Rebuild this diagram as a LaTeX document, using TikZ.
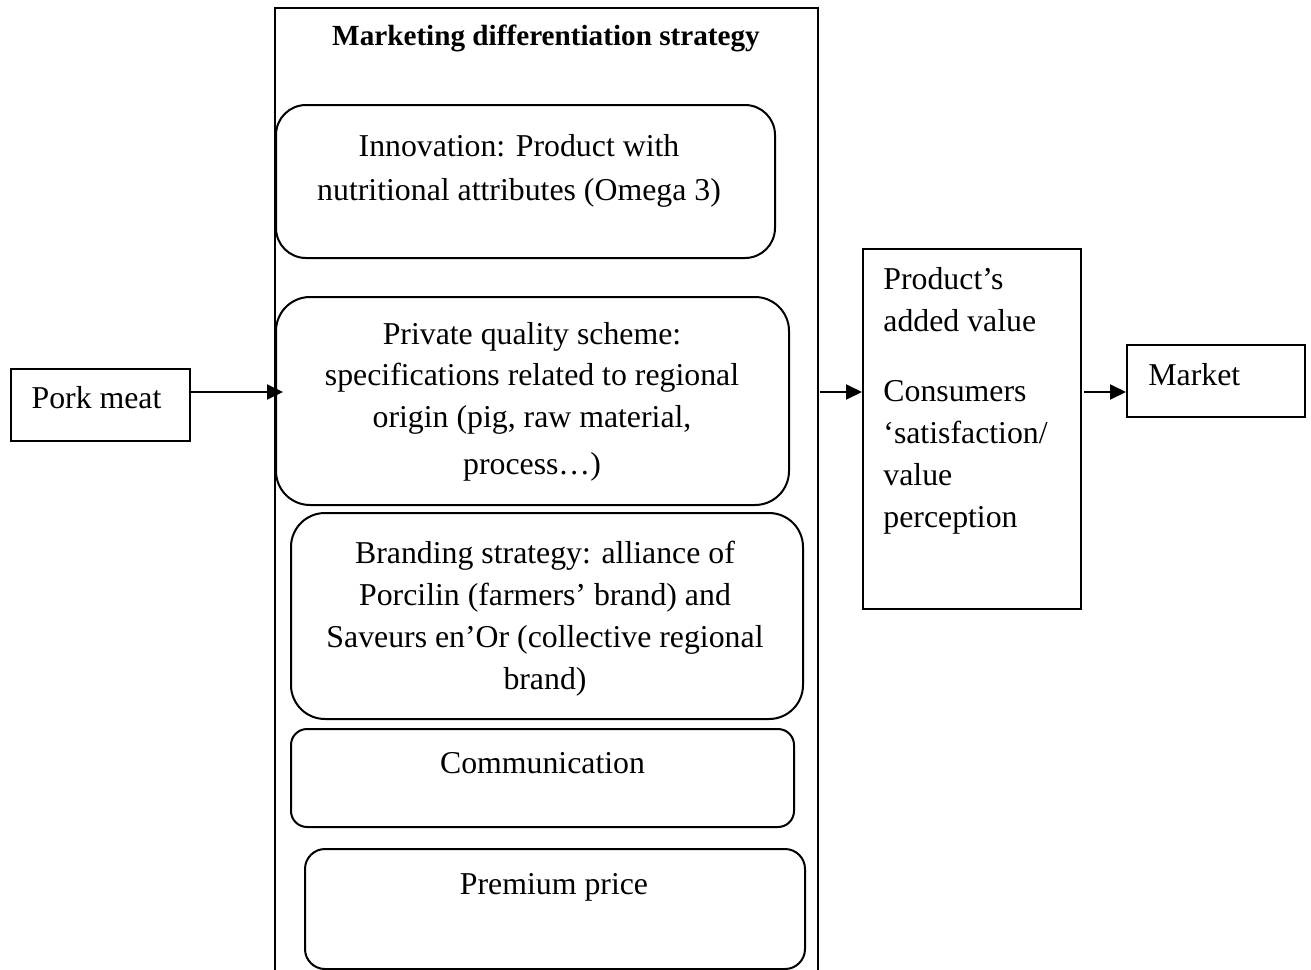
\documentclass[tikz,border=0pt]{standalone}
\usepackage{fontspec}
\setmainfont{Liberation Serif}
\usetikzlibrary{arrows.meta}
\tikzset{
  sbox/.style={draw, line width=1pt, inner sep=0pt, anchor=north west},
  rbox/.style={draw, line width=1pt, inner sep=0pt, anchor=north west, rounded corners=#1},
  rbox/.default=15pt,
  txt/.style={font=\fontsize{15.9}{20.8}\selectfont, align=center, inner sep=0pt, anchor=base},
  ltxt/.style={font=\fontsize{15.9}{21}\selectfont, align=left, inner sep=0pt, anchor=base west},
  arr/.style={-{Triangle[length=8pt,width=7.5pt]}, line width=1pt},
  frameline/.style={line width=0.9pt}
}
\begin{document}
\begin{tikzpicture}[x=0.5pt,y=-0.5pt]
\useasboundingbox (0,0) rectangle (1311,969);
\coordinate (row) at (0,392);
% left input
\node[sbox, minimum width=89.5pt, minimum height=36pt] (pork) at (10,368) {};
\node[txt] (porktxt) at (96.5,408) {Pork meat};
% frame
\node[anchor=north west, inner sep=0pt, minimum width=271pt, minimum height=490pt] (frame) at (275,8) {};
\draw[frameline] (frame.south west) -- (frame.north west) -- (frame.north east) -- (frame.south east);
\node[txt, font=\fontsize{14.6}{18}\selectfont\bfseries] (title) at (546,46) {Marketing differentiation strategy};
% inner boxes
\node[rbox=15pt, minimum width=249.5pt, minimum height=76.5pt] (innov) at (275,104) {};
\node[txt, font=\fontsize{15.9}{22}\selectfont] (innovtxt) at (519,200) {Innovation: Product with\\nutritional attributes (Omega 3)};
\node[rbox=17pt, minimum width=256.5pt, minimum height=104pt] (priv) at (275,296) {};
\node[txt] (privtxt) at (532,474) {Private quality scheme:\\specifications related to regional\\origin (pig, raw material,\\[2.5pt]process…)};
\node[rbox=17pt, minimum width=256pt, minimum height=103pt] (brand) at (290,512) {};
\node[txt, font=\fontsize{15.9}{21}\selectfont] (brandtxt) at (545,689) {Branding strategy: alliance of\\Porcilin (farmers’ brand) and\\Saveurs en’Or (collective regional\\brand)};
\node[rbox=8pt, minimum width=251.5pt, minimum height=49pt] (comm) at (290,728) {};
\node[txt] (commtxt) at (542.5,773) {Communication};
\node[rbox=10pt, minimum width=250pt, minimum height=60pt] (prem) at (304,848) {};
\node[txt] (premtxt) at (554,894) {Premium price};
% right side
\node[sbox, minimum width=109pt, minimum height=180pt] (added) at (862,248) {};
\node[ltxt] (addedtxt) at (883,527) {Product’s\\added value\\[14pt]Consumers\\‘satisfaction/\\value\\perception};
\node[sbox, minimum width=89pt, minimum height=36pt] (market) at (1126,344) {};
\node[ltxt] (markettxt) at (1148,385) {Market};
% connectors
\draw[arr, shorten >=-4pt] (pork.east |- row) -- (frame.west |- row);
\draw[arr, shorten <=1pt] (frame.east |- row) -- (added.west |- row);
\draw[arr, shorten <=1pt] (added.east |- row) -- (market.west |- row);
\end{tikzpicture}
\end{document}
